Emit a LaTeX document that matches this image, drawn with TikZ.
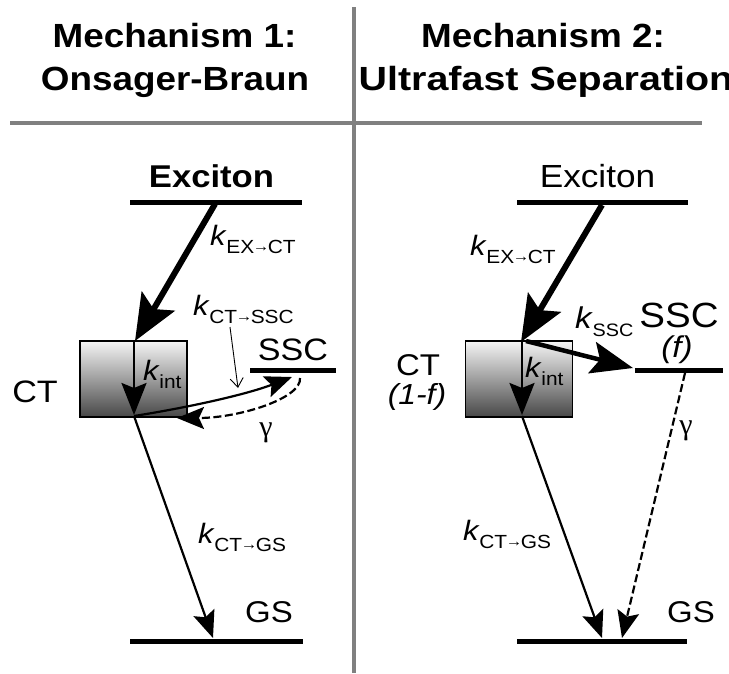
\documentclass[tikz,border=0pt]{standalone}
\usepackage{fontspec}
\setmainfont[FakeStretch=1.1]{Liberation Sans}
\newfontfamily\grk{Liberation Serif}
\usetikzlibrary{arrows.meta}
\newcommand\fs[1]{\fontsize{#1}{#1}\selectfont}
% small arrow used inside subscripts
\newcommand\subarr{\kern-1.5pt\raisebox{1.5pt}{\fs{15}→}\kern-1.5pt}
% rate constant: italic k with a lowered subscript
\newcommand\ksub[2][19]{\textit{k}\kern-0.5pt\raisebox{-8pt}{\fs{#1}#2}}
\begin{document}
\begin{tikzpicture}[x=1pt,y=-1pt,
  divider/.style={draw=black!50, line width=4pt},
  level/.style={line width=5pt},
  ttl/.style={anchor=base, inner sep=0pt, font=\fs{33.5}\bfseries},
  txt/.style={anchor=base, inner sep=0pt},
  klbl/.style={anchor=base west, inner sep=0pt, font=\fs{28}},
  ctbox/.style={draw, line width=1.8pt, top color=black!4, bottom color=black!72,
    minimum width=107pt, minimum height=76pt, inner sep=0pt},
  thickarrow/.style={line width=6pt, -{Stealth[length=46pt,width=38pt,inset=9pt]}},
  sscarrow/.style={line width=4.5pt, -{Stealth[length=42pt,width=32pt,inset=8pt]}},
  medarrow/.style={line width=2.4pt, -{Stealth[length=32pt,width=25pt,inset=5pt]}},
  thinarrow/.style={line width=2.2pt, -{Stealth[length=27pt,width=22pt,inset=5pt]}},
  dashline/.style={dash pattern=on 8pt off 3.5pt},
  pointer/.style={line width=0.9pt, -{Straight Barb[length=9pt,width=13pt]}}]
\useasboundingbox (0,0) rectangle (729,673);

% panel dividers
\coordinate (vtop) at (354,7);
\coordinate (vbot) at (354,673);
\coordinate (hleft) at (10,123);
\coordinate (hright) at (702,123);
\draw[divider] (vtop) -- (vbot);
\draw[divider] (hleft) -- (hright);

% headings
\node[ttl] (t1a) at (174.5,47) {Mechanism 1:};
\node[ttl] (t1b) at (175,90) {Onsager-Braun};
\node[ttl] (t2a) at (543,47) {Mechanism 2:};
\node[ttl] (t2b) at (546,90) {\scalebox{1.07}[1]{Ultrafast Separation}};

% ---------------- Mechanism 1 ----------------
\node[txt, font=\fs{31.5}\bfseries] (exLlbl) at (211.5,187) {Exciton};
\coordinate (exL1) at (130,202);
\coordinate (exL2) at (302,202);
\draw[level] (exL1) -- (exL2);

\node[ctbox] (ctL) at (133.5,379) {};
\node[txt, font=\fs{31}] (ctLlbl) at (35,402) {CT};

\coordinate (exLsrc) at (215,204);
\coordinate (ctLtop) at (135,341);
\draw[thickarrow] (exLsrc) -- (ctLtop);
\node[klbl] (kexL) at (210,245) {\ksub{EX\subarr CT}};

\coordinate (kiLtop) at (134,341);
\coordinate (ctLpt) at (134,415);
\draw[medarrow] (kiLtop) -- (ctLpt);
\node[klbl] (kintL) at (143,380) {\ksub{int}};

\node[txt, font=\fs{31}] (sscLlbl) at (293,360) {SSC};
\coordinate (sscL1) at (250,370);
\coordinate (sscL2) at (336,370);
\draw[level] (sscL1) -- (sscL2);

\coordinate (ctLout) at (134,416);
\coordinate (sscLin) at (292,377);
\draw[thinarrow] (ctLout) .. controls (185,408) and (245,395) .. (sscLin);
\coordinate (sscLout) at (300,378);
\coordinate (ctLret) at (177,418);
\draw[thinarrow, dashline] (sscLout) .. controls (302,398) and (240,418) .. (ctLret);
\node[txt, font=\fs{30}\grk] (gamL) at (266,436) {γ};

\coordinate (kcsL1) at (230,327);
\coordinate (kcsL2) at (238,388);
\draw[pointer] (kcsL1) -- (kcsL2);
\node[klbl] (kcsL) at (193,315) {\ksub{CT\subarr SSC}};

\coordinate (gsLtip) at (213,638);
\draw[thinarrow] (ctLout) -- (gsLtip);
\node[klbl] (kcgL) at (198,543) {\ksub{CT\subarr GS}};

\node[txt, font=\fs{30}] (gsLlbl) at (269,622) {GS};
\coordinate (gsL1) at (130,641);
\coordinate (gsL2) at (303,641);
\draw[level] (gsL1) -- (gsL2);

% ---------------- Mechanism 2 ----------------
\node[txt, font=\fs{32}] (exRlbl) at (597.5,187) {Exciton};
\coordinate (exR1) at (517,202);
\coordinate (exR2) at (688,202);
\draw[level] (exR1) -- (exR2);

\node[ctbox] (ctR) at (519,379) {};
\node[txt, font=\fs{30}] (ctRlbl) at (418,375) {CT};
\node[txt, font=\fs{29}\itshape] (ctRfrac) at (417,404) {(1-f)};

\coordinate (exRsrc) at (602,205);
\coordinate (ctRtop) at (521,342);
\draw[thickarrow] (exRsrc) -- (ctRtop);
\node[klbl] (kexR) at (470,255) {\ksub{EX\subarr CT}};

\coordinate (kiRtop) at (522,342);
\coordinate (ctRpt) at (522,415);
\draw[medarrow] (kiRtop) -- (ctRpt);
\node[klbl] (kintR) at (525,377) {\ksub{int}};

\node[txt, font=\fs{35}] (sscRlbl) at (679,327) {SSC};
\node[txt, font=\fs{30}\itshape] (sscRfrac) at (677,357) {(f)};
\coordinate (sscR1) at (635,370);
\coordinate (sscR2) at (723,370);
\draw[level] (sscR1) -- (sscR2);

\coordinate (ctRout) at (526,341);
\coordinate (sscRin) at (633,368);
\draw[sscarrow] (ctRout) -- (sscRin);
\node[klbl, font=\fs{30}] (ksscR) at (575,328) {\ksub[18]{SSC}};

\coordinate (sscRout) at (685,373);
\coordinate (gsRtip2) at (622,638);
\draw[thinarrow, dashline] (sscRout) -- (gsRtip2);
\node[txt, font=\fs{30}\grk] (gamR) at (686,434) {γ};

\coordinate (ctRlow) at (522,416);
\coordinate (gsRtip1) at (602,638);
\draw[thinarrow] (ctRlow) -- (gsRtip1);
\node[klbl] (kcgR) at (463,540) {\ksub{CT\subarr GS}};

\node[txt, font=\fs{30}] (gsRlbl) at (691,622) {GS};
\coordinate (gsR1) at (517,641);
\coordinate (gsR2) at (687,641);
\draw[level] (gsR1) -- (gsR2);
\end{tikzpicture}
\end{document}
